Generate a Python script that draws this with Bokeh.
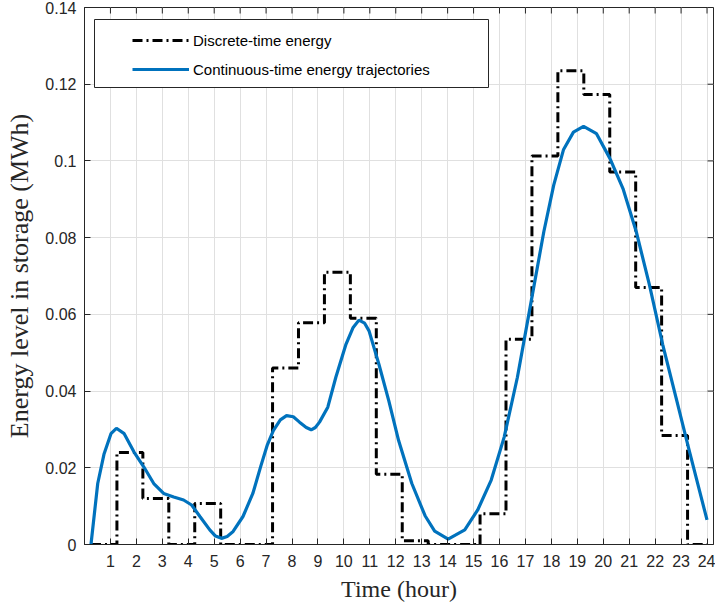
import math
from bokeh.plotting import figure
from bokeh.models import Range1d, FixedTicker, Legend, LegendItem, BoxAnnotation
from bokeh.embed import file_html
from bokeh.resources import INLINE

# ---------------- data ----------------
hour_ticks = [1, 2, 3, 4, 5, 6, 7, 8, 9, 10, 11, 12, 13, 14, 15, 16, 17, 18, 19, 20, 21, 22, 23, 24]
energy_ticks = [0, 0.02, 0.04, 0.06, 0.08, 0.1, 0.12, 0.14]
energy_tick_labels = ["0", "0.02", "0.04", "0.06", "0.08", "0.1", "0.12", "0.14"]

# discrete-time energy (start of each step, value held until next start)
step_time = [0.25, 1.25, 2.25, 3.25, 4.25, 5.25, 6.25, 7.25, 8.25, 9.25, 10.25, 11.25,
             12.25, 13.25, 14.25, 15.25, 16.25, 17.25, 18.25, 19.25, 20.25, 21.25, 22.25, 23.25, 24.0]
discrete_energy = [0.0, 0.024, 0.012, 0.0, 0.0107, 0.0, 0.0, 0.046, 0.0578, 0.071, 0.059, 0.0183,
                   0.001, 0.0, 0.0, 0.008, 0.0535, 0.1013, 0.1235, 0.1173, 0.0971, 0.067, 0.0284, 0.0, 0.0]

# continuous-time energy trajectory
curve_time = [0.25, 0.51, 0.75, 1.02, 1.23, 1.53, 1.91, 2.29, 2.67, 3.05, 3.44, 3.82, 4.13, 4.45,
              4.83, 5.05, 5.28, 5.5, 5.73, 6.11, 6.49, 6.8, 7.05, 7.28, 7.55, 7.79, 8.05, 8.29,
              8.55, 8.74, 8.9, 9.06, 9.38, 9.69, 10.08, 10.35, 10.58, 10.8, 10.97, 11.35, 11.73,
              12.11, 12.62, 13.13, 13.5, 14.02, 14.66, 15.16, 15.68, 16.18, 16.69, 17.2, 17.71,
              18.09, 18.47, 18.85, 19.24, 19.74, 20.26, 20.76, 21.27, 21.78, 22.29, 22.8, 23.31, 24.0]
curve_energy = [0.0, 0.0159, 0.0235, 0.0289, 0.0303, 0.0289, 0.0241, 0.0202, 0.0159, 0.0133, 0.0124,
                0.0116, 0.0103, 0.0073, 0.0038, 0.0022, 0.0016, 0.0021, 0.0034, 0.0073, 0.0133, 0.0205,
                0.026, 0.0297, 0.0325, 0.0336, 0.0333, 0.0319, 0.0305, 0.0299, 0.0305, 0.0319, 0.0358,
                0.0436, 0.0522, 0.0565, 0.0585, 0.0577, 0.0557, 0.047, 0.0375, 0.0271, 0.0159, 0.0075,
                0.0035, 0.0014, 0.0038, 0.009, 0.0168, 0.028, 0.0436, 0.0626, 0.0816, 0.0937, 0.103,
                0.1075, 0.109, 0.1071, 0.1006, 0.0928, 0.0816, 0.0677, 0.0522, 0.0384, 0.0246, 0.0064]

X_START, X_END = 0, 24.25
Y_START, Y_END = 0, 0.14

AX = "#262626"
TICK_FONT = "Liberation Sans"
LABEL_FONT = "Liberation Serif"

p = figure(width=715, height=608, x_range=Range1d(X_START, X_END), y_range=Range1d(Y_START, Y_END),
           output_backend="svg", toolbar_location=None,
           min_border_left=84, min_border_right=2, min_border_top=7, min_border_bottom=64,
           x_axis_label="Time (hour)", y_axis_label="Energy level in storage (MWh)")
p.background_fill_color = "white"
p.border_fill_color = "white"
p.outline_line_color = AX
p.outline_line_width = 1

xt = FixedTicker(ticks=hour_ticks)
yt = FixedTicker(ticks=energy_ticks)

for ax in p.xaxis:
    ax.ticker = xt
    ax.major_label_standoff = 10
    ax.axis_label_standoff = 6
for ax in p.yaxis:
    ax.ticker = yt
    ax.major_label_overrides = {t: s for t, s in zip(energy_ticks, energy_tick_labels)}
    ax.major_label_standoff = 8
    ax.axis_label_standoff = 8

for ax in list(p.xaxis) + list(p.yaxis):
    ax.major_tick_in = 6
    ax.major_tick_out = 0
    ax.minor_tick_line_color = None
    ax.axis_line_color = AX
    ax.major_tick_line_color = AX
    ax.major_label_text_font = TICK_FONT
    ax.major_label_text_font_size = "16px"
    ax.major_label_text_color = AX
    ax.axis_label_text_font = LABEL_FONT
    ax.axis_label_text_font_style = "normal"
    ax.axis_label_text_color = AX
p.xaxis.axis_label_text_font_size = "24px"
p.yaxis.axis_label_text_font_size = "26px"

p.xgrid.ticker = xt
p.ygrid.ticker = yt
p.xgrid.grid_line_color = "#e0e0e0"
p.ygrid.grid_line_color = "#e0e0e0"

# tick marks on the top and right edges of the box
p.ray(x=hour_ticks, y=[Y_END] * len(hour_ticks), length=6, length_units="screen",
      angle=-math.pi / 2, line_color=AX, line_width=1)
p.ray(x=[X_END] * len(energy_ticks), y=energy_ticks, length=6, length_units="screen",
      angle=math.pi, line_color=AX, line_width=1)

r_step = p.step(step_time, discrete_energy, mode="after", line_color="black", line_width=3,
                line_dash="10 4 2 4")
r_curve = p.line(curve_time, curve_energy, line_color="#0072BD", line_width=3.2)

# legend frame (positions in pixels inside the plot frame)
FRAME_W, FRAME_H = 629, 537
def px_x(px):
    return X_START + px / FRAME_W * (X_END - X_START)
def px_y(py_from_top):
    return Y_END - py_from_top / FRAME_H * (Y_END - Y_START)

box = BoxAnnotation(left=px_x(10), right=px_x(404), top=px_y(12), bottom=px_y(80),
                    fill_color="white", fill_alpha=1.0, line_color=AX, line_width=1,
                    line_alpha=1.0)
p.add_layout(box)

legend = Legend(items=[LegendItem(label="Discrete-time energy", renderers=[r_step]),
                       LegendItem(label="Continuous-time energy trajectories", renderers=[r_curve])],
                location=(48, FRAME_H - 23 - 49), padding=0, margin=0, spacing=9,
                glyph_width=57, glyph_height=20, label_height=20, label_standoff=4,
                label_text_font=TICK_FONT, label_text_font_size="15px", label_text_color="black",
                border_line_alpha=0, background_fill_alpha=0)
p.add_layout(legend)

open("out.html", "w").write(file_html(p, INLINE))
